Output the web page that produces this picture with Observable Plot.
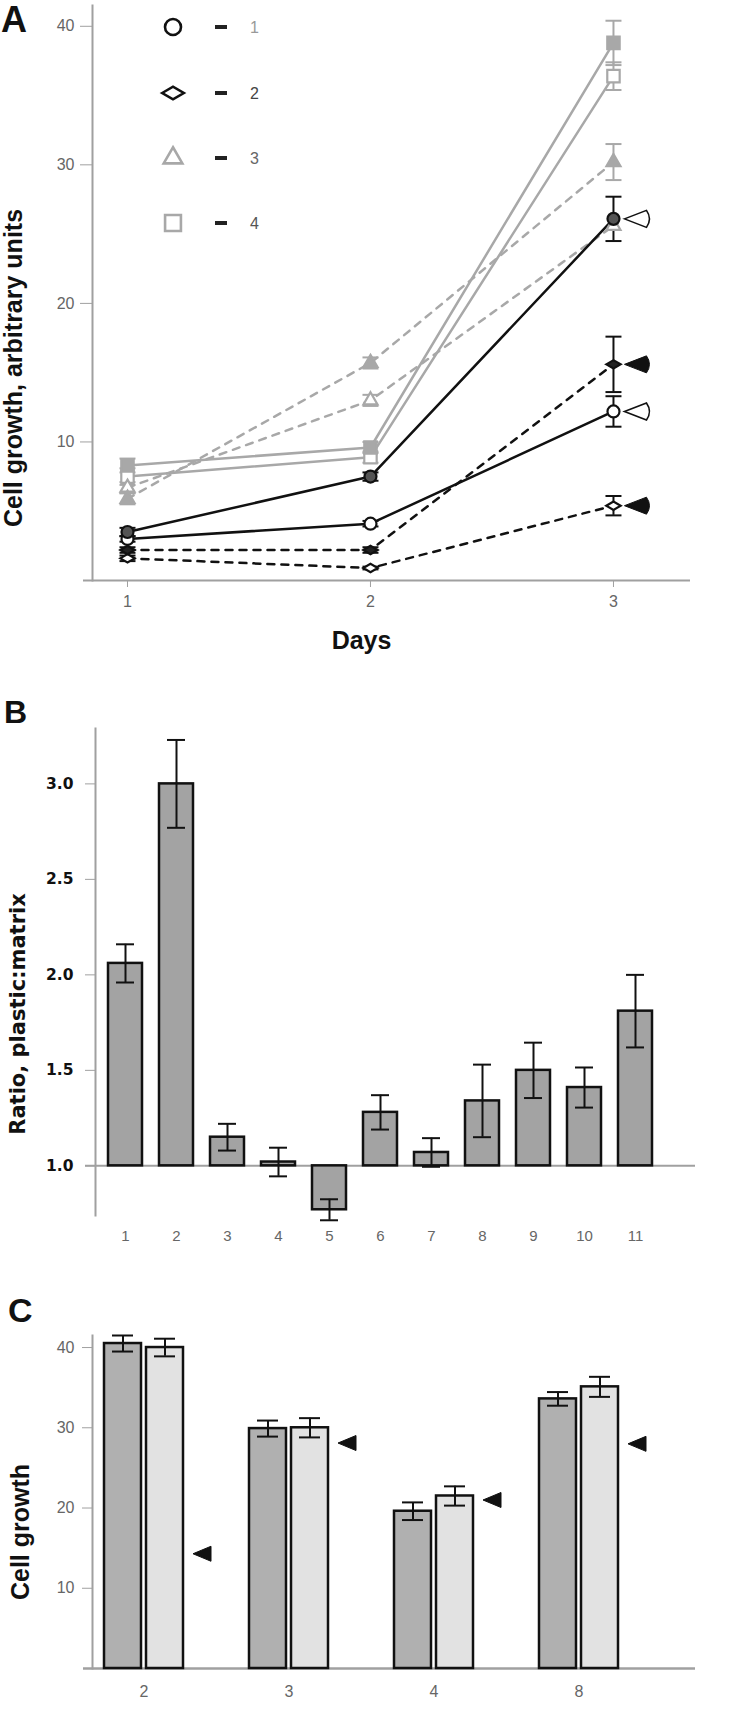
<!DOCTYPE html>
<html><head><meta charset="utf-8">
<script src="https://cdn.jsdelivr.net/npm/d3@7"></script>
<script src="https://cdn.jsdelivr.net/npm/@observablehq/plot@0.6"></script>
<style>
body{margin:0;background:#fff;}
#wrap{position:relative;width:750px;height:1719px;overflow:hidden;font-family:"Liberation Sans",Arial,sans-serif;background:#fff;}
.panel{position:absolute;left:0;}
.plabel{position:absolute;font-weight:bold;color:#111;line-height:1;font-family:"Liberation Sans",Arial,sans-serif;}
</style></head><body><div id="wrap"></div>
<script>
// ---------- Panel A data ----------
const days = [1, 2, 3];
const circleOpen = [3.0, 4.1, 12.2];
const circleOpenErr = [0.2, 0.2, 1.1];
const circleFilled = [3.5, 7.5, 26.1];
const circleFilledErr = [0.3, 0.3, 1.6];
const diamondOpen = [1.6, 0.9, 5.4];
const diamondOpenErr = [0.2, 0.1, 0.7];
const diamondFilled = [2.2, 2.2, 15.6];
const diamondFilledErr = [0.2, 0.2, 2.0];
const triangleOpen = [6.7, 13.0, 25.6];
const triangleOpenErr = [0.4, 0.4, 0];
const triangleFilled = [5.9, 15.7, 30.2];
const triangleFilledErr = [0.4, 0.4, 1.3];
const squareOpen = [7.5, 8.9, 36.4];
const squareOpenErr = [0.6, 0.4, 1.0];
const squareFilled = [8.3, 9.6, 38.8];
const squareFilledErr = [0.5, 0.4, 1.6];
const pointerOpenA = [26.1, 12.2];
const pointerFilledA = [15.6, 5.4];
const legendLabels = ["1", "2", "3", "4"];
const axisTitleA = "Cell growth, arbitrary units";
const xTitleA = "Days";

// ---------- Panel B data ----------
const ratioCats = ["1","2","3","4","5","6","7","8","9","10","11"];
const ratioValues = [2.06, 3.0, 1.15, 1.02, 0.77, 1.28, 1.07, 1.34, 1.5, 1.41, 1.81];
const ratioErr = [0.1, 0.23, 0.07, 0.075, 0.055, 0.09, 0.075, 0.19, 0.145, 0.105, 0.19];
const ratioBase = 1;
const axisTitleB = "Ratio, plastic:matrix";

// ---------- Panel C data ----------
const growthGroups = ["2", "3", "4", "8"];
const growthDark = [40.5, 29.9, 19.6, 33.6];
const growthDarkErr = [1.0, 1.0, 1.1, 0.85];
const growthLight = [40.0, 30.0, 21.5, 35.1];
const growthLightErr = [1.1, 1.2, 1.2, 1.25];
const growthPointer = [14.3, 28.1, 21.0, 28.0];
const axisTitleC = "Cell growth";

// ---------- symbols ----------
const flatDiamond = {draw(ctx, size){const r=Math.sqrt(size/Math.PI);ctx.moveTo(-r*1.2,0);ctx.lineTo(0,-r*0.7);ctx.lineTo(r*1.2,0);ctx.lineTo(0,r*0.7);ctx.closePath();}};
const capSym = {draw(ctx, size){const r=Math.sqrt(size/Math.PI);ctx.moveTo(-r,0);ctx.lineTo(r,0);}};
const pointerA = {draw(ctx){ctx.moveTo(-13,0);ctx.lineTo(9,-8.5);ctx.quadraticCurveTo(15,0,9,8.5);ctx.closePath();}};
const pointerC = {draw(ctx){ctx.moveTo(-9,0);ctx.lineTo(9,-7.5);ctx.lineTo(9,7.5);ctx.closePath();}};

const GRAY = "#a8a8a8", BLACK = "#111", AXIS = "#a0a0a0";
const styleA = {
  "circle open":     {symbol:"circle", stroke:BLACK, fill:"#fff", dash:null, r:6},
  "circle filled":   {symbol:"circle", stroke:BLACK, fill:"#555", dash:null, r:6},
  "diamond open":    {symbol:flatDiamond, stroke:BLACK, fill:"#fff", dash:"7,7", r:6},
  "diamond filled":  {symbol:flatDiamond, stroke:BLACK, fill:"#222", dash:"7,7", r:6},
  "triangle open":   {symbol:"triangle", stroke:GRAY, fill:"#fff", dash:"7,7", r:5.2},
  "triangle filled": {symbol:"triangle", stroke:GRAY, fill:GRAY, dash:"7,7", r:5.2},
  "square open":     {symbol:"square", stroke:GRAY, fill:"#fff", dash:null, r:7},
  "square filled":   {symbol:"square", stroke:GRAY, fill:GRAY, dash:null, r:7}
};
const seriesA = [
  ["square open", squareOpen, squareOpenErr],
  ["square filled", squareFilled, squareFilledErr],
  ["triangle open", triangleOpen, triangleOpenErr],
  ["triangle filled", triangleFilled, triangleFilledErr],
  ["diamond open", diamondOpen, diamondOpenErr],
  ["diamond filled", diamondFilled, diamondFilledErr],
  ["circle open", circleOpen, circleOpenErr],
  ["circle filled", circleFilled, circleFilledErr]
];
const rowsA = seriesA.flatMap(([name, vals, errs]) => days.map((d, i) => ({series:name, day:d, value:vals[i], err:errs[i]})));

const wrap = document.getElementById("wrap");
function place(svg, top){ const d=document.createElement("div"); d.className="panel"; d.style.top=top+"px"; d.appendChild(svg); wrap.appendChild(d); }
function label(txt, left, top, size){ const d=document.createElement("div"); d.className="plabel"; d.textContent=txt; d.style.left=left+"px"; d.style.top=top+"px"; d.style.fontSize=size+"px"; wrap.appendChild(d); }

const baseStyle = {fontFamily:"Liberation Sans, Arial, sans-serif", background:"transparent", color:"#222", overflow:"visible"};

// ---------- Panel A ----------
const marksA = [
  Plot.frame({anchor:"left", stroke:AXIS, strokeWidth:2}),
  Plot.ruleY([0], {insetLeft:-9, stroke:AXIS, strokeWidth:2}),
  Plot.axisY({ticks:[10,20,30,40], tickSize:12, tickPadding:6, fontSize:16, fill:"#666", stroke:AXIS, label:null}),
  Plot.axisX({ticks:days, tickFormat:"d", tickSize:7, tickPadding:8, fontSize:16, fill:"#666", stroke:AXIS, label:null})
];
for (const [name] of seriesA) {
  const s = styleA[name];
  const rows = rowsA.filter(r => r.series === name);
  marksA.push(Plot.line(rows, {x:"day", y:"value", stroke:s.stroke, strokeWidth:2.5, strokeDasharray:s.dash}));
}
for (const [name] of seriesA) {
  const s = styleA[name];
  const rows = rowsA.filter(r => r.series === name && r.err > 0);
  marksA.push(Plot.ruleX(rows, {x:"day", y1:d=>d.value-d.err, y2:d=>d.value+d.err, stroke:s.stroke, strokeWidth:2}));
  marksA.push(Plot.dot(rows, {x:"day", y:d=>d.value+d.err, symbol:capSym, r:8, stroke:s.stroke, strokeWidth:2, fill:"none"}));
  marksA.push(Plot.dot(rows, {x:"day", y:d=>d.value-d.err, symbol:capSym, r:8, stroke:s.stroke, strokeWidth:2, fill:"none"}));
}
for (const [name] of seriesA) {
  const s = styleA[name];
  const rows = rowsA.filter(r => r.series === name);
  marksA.push(Plot.dot(rows, {x:"day", y:"value", symbol:s.symbol, r:s.r, stroke:s.stroke, fill:s.fill, strokeWidth:2.2}));
}
marksA.push(Plot.dot(pointerOpenA, {x:()=>days[2], y:d=>d, symbol:pointerA, dx:24, fill:"#fff", stroke:BLACK, strokeWidth:1.6}));
marksA.push(Plot.dot(pointerFilledA, {x:()=>days[2], y:d=>d, symbol:pointerA, dx:24, fill:BLACK, stroke:BLACK, strokeWidth:1}));
marksA.push(Plot.text([xTitleA], {frameAnchor:"bottom", lineAnchor:"middle", textAnchor:"middle", dx:-30, dy:60, fontSize:25, fontWeight:"bold", fill:"#111"}));
marksA.push(Plot.text([axisTitleA], {frameAnchor:"left", lineAnchor:"middle", textAnchor:"middle", rotate:-90, dx:-79, dy:75, fontSize:25, fontWeight:"bold", fill:"#111", letterSpacing:"1px"}));

const plotA = Plot.plot({
  width:750, height:660, marginLeft:92, marginRight:60, marginTop:5, marginBottom:80,
  style:baseStyle,
  x:{domain:[0.856, 3.317]},
  y:{domain:[0, 41.5]},
  marks:marksA
});
place(plotA, 0);

// Legend for A
{
  const svg = d3.create("svg").attr("width", 120).attr("height", 250)
    .style("position","absolute").style("left","150px").style("top","0px");
  const legStyles = [
    {sym:d3.symbolCircle, size:Math.PI*64, stroke:BLACK},
    {sym:flatDiamond, size:Math.PI*81, stroke:BLACK},
    {sym:d3.symbolTriangle, size:Math.PI*48, stroke:GRAY},
    {sym:d3.symbolSquare, size:Math.PI*80, stroke:GRAY}
  ];
  const labelFill = ["#999", "#444", "#666", "#555"];
  const ys = [27, 93, 158, 223];
  legendLabels.forEach((lab, i) => {
    const g = svg.append("g").attr("transform", `translate(0,${ys[i]})`);
    g.append("path").attr("transform","translate(23,0)").attr("d", d3.symbol(legStyles[i].sym, legStyles[i].size)())
      .attr("fill","#fff").attr("stroke", legStyles[i].stroke).attr("stroke-width", 2.6);
    g.append("line").attr("x1",65).attr("x2",77).attr("y1",0).attr("y2",0).attr("stroke","#222").attr("stroke-width",4);
    g.append("text").attr("x",100).attr("y",0).attr("dy","0.35em").attr("font-size",16)
      .attr("font-family","Liberation Sans, Arial, sans-serif").attr("fill",labelFill[i]).text(lab);
  });
  wrap.appendChild(svg.node());
}

// ---------- Panel B ----------
const rowsB = ratioCats.map((c, i) => ({cat:c, value:ratioValues[i], err:ratioErr[i]}));
const plotB = Plot.plot({
  width:750, height:620, marginLeft:95, marginRight:55, marginTop:68, marginBottom:65,
  style:baseStyle,
  x:{domain:ratioCats, range:[88.6, 670.3], padding:0.34},
  y:{domain:[0.74, 3.29]},
  marks:[
    Plot.frame({anchor:"left", stroke:AXIS, strokeWidth:2}),
    Plot.axisY({ticks:[1, 1.5, 2, 2.5, 3], tickFormat:".1f", tickSize:10, tickPadding:12, fontSize:15.5, fontWeight:"bold", fontFamily:"DejaVu Sans, Verdana, sans-serif", fill:"#111", stroke:AXIS, label:null}),
    Plot.axisX({tickSize:0, tickPadding:15, fontSize:15, fill:"#666", label:null}),
    Plot.ruleY([ratioBase], {insetLeft:-10, stroke:AXIS, strokeWidth:2}),
    Plot.barY(rowsB, {x:"cat", y1:()=>ratioBase, y2:"value", fill:"#a3a3a3", stroke:BLACK, strokeWidth:2.5}),
    Plot.ruleX(rowsB, {x:"cat", y1:d=>d.value-d.err, y2:d=>d.value+d.err, stroke:BLACK, strokeWidth:2}),
    Plot.tickY(rowsB, {x:"cat", y:d=>d.value+d.err, insetLeft:8, insetRight:8, stroke:BLACK, strokeWidth:2}),
    Plot.tickY(rowsB, {x:"cat", y:d=>d.value-d.err, insetLeft:8, insetRight:8, stroke:BLACK, strokeWidth:2}),
    Plot.text([axisTitleB], {frameAnchor:"left", lineAnchor:"middle", textAnchor:"middle", rotate:-90, dx:-77, dy:42, fontSize:21, fontWeight:"bold", fontFamily:"DejaVu Sans, Verdana, sans-serif", fill:"#111"})
  ]
});
place(plotB, 660);

// ---------- Panel C ----------
const rowsC = growthGroups.map((g, i) => ({group:g, dark:growthDark[i], darkErr:growthDarkErr[i], light:growthLight[i], lightErr:growthLightErr[i], ptr:growthPointer[i]}));
const plotC = Plot.plot({
  width:750, height:439, marginLeft:92, marginRight:55, marginTop:55, marginBottom:51,
  style:baseStyle,
  x:{domain:growthGroups, range:[37.3, 684.4], padding:0.453},
  y:{domain:[0, 41.5]},
  marks:[
    Plot.frame({anchor:"left", stroke:AXIS, strokeWidth:2}),
    Plot.axisY({ticks:[10,20,30,40], tickSize:10, tickPadding:8, fontSize:16, fill:"#666", stroke:AXIS, label:null}),
    Plot.axisX({tickSize:0, tickPadding:17, fontSize:16, fill:"#666", label:null}),
    Plot.ruleY([0], {insetLeft:-9, stroke:AXIS, strokeWidth:2.5}),
    Plot.barY(rowsC, {x:"group", y:"dark", insetRight:42, fill:"#b0b0b0", stroke:BLACK, strokeWidth:2.5}),
    Plot.barY(rowsC, {x:"group", y:"light", insetLeft:42, fill:"#e2e2e2", stroke:BLACK, strokeWidth:2.5}),
    Plot.ruleX(rowsC, {x:"group", y1:d=>d.dark-d.darkErr, y2:d=>d.dark+d.darkErr, dx:-21, stroke:BLACK, strokeWidth:2}),
    Plot.ruleX(rowsC, {x:"group", y1:d=>d.light-d.lightErr, y2:d=>d.light+d.lightErr, dx:21, stroke:BLACK, strokeWidth:2}),
    Plot.tickY(rowsC, {x:"group", y:d=>d.dark+d.darkErr, insetLeft:8, insetRight:50, stroke:BLACK, strokeWidth:2}),
    Plot.tickY(rowsC, {x:"group", y:d=>d.dark-d.darkErr, insetLeft:8, insetRight:50, stroke:BLACK, strokeWidth:2}),
    Plot.tickY(rowsC, {x:"group", y:d=>d.light+d.lightErr, insetLeft:50, insetRight:8, stroke:BLACK, strokeWidth:2}),
    Plot.tickY(rowsC, {x:"group", y:d=>d.light-d.lightErr, insetLeft:50, insetRight:8, stroke:BLACK, strokeWidth:2}),
    Plot.dot(rowsC, {x:"group", y:"ptr", symbol:pointerC, dx:58, fill:BLACK, stroke:BLACK, strokeWidth:1}),
    Plot.text([axisTitleC], {frameAnchor:"left", lineAnchor:"middle", textAnchor:"middle", rotate:-90, dx:-72, dy:30, fontSize:25, fontWeight:"bold", fill:"#111"})
  ]
});
place(plotC, 1280);

label("A", 1, 2, 36);
label("B", 4, 696, 32);
label("C", 8, 1293, 34);
</script>
</body></html>
